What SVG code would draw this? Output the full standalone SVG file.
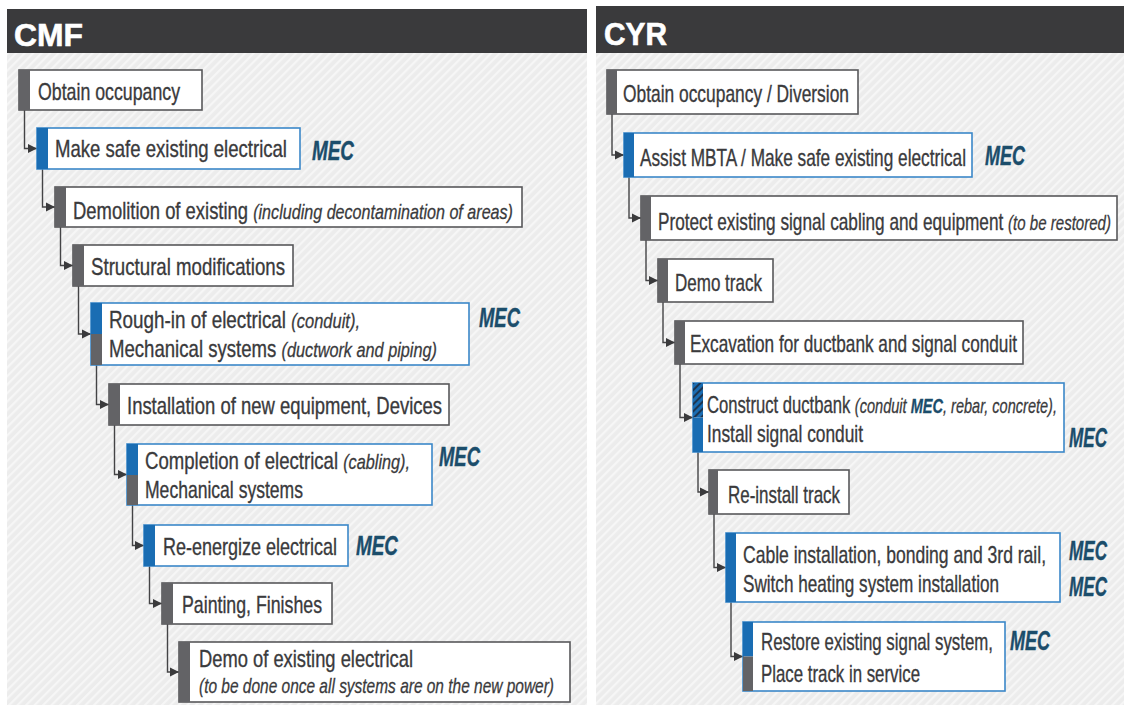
<svg xmlns="http://www.w3.org/2000/svg" width="1128" height="707" viewBox="0 0 1128 707">
<style>
.t{font-family:"Liberation Sans",Arial,sans-serif;font-size:24px;fill:#3a3a3c;stroke:#3a3a3c;stroke-width:0.35}
.i{font-family:"Liberation Sans",Arial,sans-serif;font-size:21px;font-style:italic;fill:#3a3a3c;stroke:#3a3a3c;stroke-width:0.3}
.m{font-family:"Liberation Sans",Arial,sans-serif;font-size:27px;font-style:italic;font-weight:bold;fill:#1b4d6b;stroke:#1b4d6b;stroke-width:0.4}
.mi{font-family:"Liberation Sans",Arial,sans-serif;font-size:21px;font-style:italic;font-weight:bold;fill:#1b4d6b;stroke:#1b4d6b;stroke-width:0.3}
.h{font-family:"Liberation Sans",Arial,sans-serif;font-size:31px;font-weight:bold;fill:#ffffff;stroke:#ffffff;stroke-width:0.6}
.bg{fill:#ffffff;stroke:#58585a;stroke-width:1.6}
.bb{fill:#ffffff;stroke:#3b88c9;stroke-width:1.6}
.gb{fill:#636366}
.blb{fill:#1a6db3}
.c{fill:none;stroke:#444446;stroke-width:1.4}
</style>
<defs>
<pattern id="stripes" width="6" height="6" patternUnits="userSpaceOnUse" patternTransform="rotate(45)">
<rect width="6" height="6" fill="#ececec"/>
<rect width="2.2" height="6" fill="#f6f6f6"/>
</pattern>
<pattern id="hatch" width="5" height="5" patternUnits="userSpaceOnUse" patternTransform="rotate(45)">
<rect width="5" height="5" fill="#1a6db3"/>
<rect width="2" height="5" fill="#1d3550"/>
</pattern>
<marker id="arr" markerUnits="userSpaceOnUse" markerWidth="10" markerHeight="10" refX="9" refY="5" orient="auto">
<path d="M0,0.5 L9,5 L0,9.5 Z" fill="#3a3a3c"/>
</marker>
</defs>
<rect width="1128" height="707" fill="#ffffff"/>
<g id="panels">
<rect x="7" y="53" width="580" height="652" fill="url(#stripes)"/>
<rect x="7" y="9" width="580" height="44" fill="#3a3a3c"/>
<text class="h" x="14" y="46" textLength="69" lengthAdjust="spacingAndGlyphs">CMF</text>
<rect x="596" y="53" width="528" height="652" fill="url(#stripes)"/>
<rect x="596" y="6" width="528" height="47" fill="#3a3a3c"/>
<text class="h" x="604" y="45" textLength="63" lengthAdjust="spacingAndGlyphs">CYR</text>
</g>
<g id="connectors">
<path class="c" marker-end="url(#arr)" d="M24.5,110 V148.5 H37"/>
<path class="c" marker-end="url(#arr)" d="M42.5,169 V207 H55"/>
<path class="c" marker-end="url(#arr)" d="M60.5,227 V265.5 H73"/>
<path class="c" marker-end="url(#arr)" d="M78.5,286 V334 H91"/>
<path class="c" marker-end="url(#arr)" d="M96.5,365 V404.5 H109"/>
<path class="c" marker-end="url(#arr)" d="M114.5,425 V474.5 H127"/>
<path class="c" marker-end="url(#arr)" d="M132.5,505 V545.5 H144"/>
<path class="c" marker-end="url(#arr)" d="M149.5,566 V603.5 H162"/>
<path class="c" marker-end="url(#arr)" d="M167.5,624 V672 H179"/>
<path class="c" marker-end="url(#arr)" d="M612,114 V155 H624"/>
<path class="c" marker-end="url(#arr)" d="M629,177 V218 H641"/>
<path class="c" marker-end="url(#arr)" d="M646,240 V280.5 H658"/>
<path class="c" marker-end="url(#arr)" d="M663,302 V342.5 H675"/>
<path class="c" marker-end="url(#arr)" d="M680,364 V417.5 H693"/>
<path class="c" marker-end="url(#arr)" d="M698,452 V492 H709"/>
<path class="c" marker-end="url(#arr)" d="M714,514 V567.5 H726"/>
<path class="c" marker-end="url(#arr)" d="M731,602 V656.5 H743"/>
</g>
<g id="cmf1">
<rect class="bg" x="19" y="70" width="183" height="40"/>
<rect class="gb" x="19" y="70" width="11" height="40"/>
<text class="t" x="38" y="100" textLength="142" lengthAdjust="spacingAndGlyphs">Obtain occupancy</text>
</g>
<g id="cmf2">
<rect class="bb" x="37" y="128" width="263" height="41"/>
<rect class="blb" x="37" y="128" width="11" height="41"/>
<text class="t" x="55" y="157" textLength="232" lengthAdjust="spacingAndGlyphs">Make safe existing electrical</text>
<text class="m" x="312" y="160" textLength="42" lengthAdjust="spacingAndGlyphs">MEC</text>
</g>
<g id="cmf3">
<rect class="bg" x="55" y="187" width="467" height="40"/>
<rect class="gb" x="55" y="187" width="11" height="40"/>
<text class="t" x="73" y="219" textLength="440" lengthAdjust="spacingAndGlyphs">Demolition of existing <tspan class="i">(including decontamination of areas)</tspan></text>
</g>
<g id="cmf4">
<rect class="bg" x="73" y="245" width="220" height="41"/>
<rect class="gb" x="73" y="245" width="11" height="41"/>
<text class="t" x="91" y="275" textLength="194" lengthAdjust="spacingAndGlyphs">Structural modifications</text>
</g>
<g id="cmf5">
<rect class="bb" x="91" y="303" width="378" height="62"/>
<rect class="blb" x="91" y="303" width="11" height="31"/>
<rect class="gb" x="91" y="334" width="11" height="31"/>
<text class="t" x="109" y="328" textLength="251" lengthAdjust="spacingAndGlyphs">Rough-in of electrical <tspan class="i">(conduit),</tspan></text>
<text class="t" x="109" y="357" textLength="328" lengthAdjust="spacingAndGlyphs">Mechanical systems <tspan class="i">(ductwork and piping)</tspan></text>
<text class="m" x="479" y="327" textLength="41" lengthAdjust="spacingAndGlyphs">MEC</text>
</g>
<g id="cmf6">
<rect class="bg" x="109" y="384" width="340" height="41"/>
<rect class="gb" x="109" y="384" width="11" height="41"/>
<text class="t" x="127" y="414" textLength="315" lengthAdjust="spacingAndGlyphs">Installation of new equipment, Devices</text>
</g>
<g id="cmf7">
<rect class="bb" x="127" y="444" width="305" height="61"/>
<rect class="blb" x="127" y="444" width="11" height="31"/>
<rect class="gb" x="127" y="475" width="11" height="30"/>
<text class="t" x="145" y="469" textLength="265" lengthAdjust="spacingAndGlyphs">Completion of electrical <tspan class="i">(cabling),</tspan></text>
<text class="t" x="145" y="498" textLength="158" lengthAdjust="spacingAndGlyphs">Mechanical systems</text>
<text class="m" x="439" y="466" textLength="41" lengthAdjust="spacingAndGlyphs">MEC</text>
</g>
<g id="cmf8">
<rect class="bb" x="144" y="525" width="204" height="41"/>
<rect class="blb" x="144" y="525" width="11" height="41"/>
<text class="t" x="163" y="555" textLength="174" lengthAdjust="spacingAndGlyphs">Re-energize electrical</text>
<text class="m" x="356" y="555" textLength="42" lengthAdjust="spacingAndGlyphs">MEC</text>
</g>
<g id="cmf9">
<rect class="bg" x="162" y="583" width="170" height="41"/>
<rect class="gb" x="162" y="583" width="11" height="41"/>
<text class="t" x="182" y="613" textLength="140" lengthAdjust="spacingAndGlyphs">Painting, Finishes</text>
</g>
<g id="cmf10">
<rect class="bg" x="179" y="642" width="391" height="60"/>
<rect class="gb" x="179" y="642" width="11" height="60"/>
<text class="t" x="199" y="667" textLength="214" lengthAdjust="spacingAndGlyphs">Demo of existing electrical</text>
<text class="i" x="199" y="693" textLength="355" lengthAdjust="spacingAndGlyphs">(to be done once all systems are on the new power)</text>
</g>
<g id="cyr1">
<rect class="bg" x="607" y="70" width="251" height="44"/>
<rect class="gb" x="607" y="70" width="10" height="44"/>
<text class="t" x="623" y="102" textLength="226" lengthAdjust="spacingAndGlyphs">Obtain occupancy / Diversion</text>
</g>
<g id="cyr2">
<rect class="bb" x="624" y="133" width="348" height="44"/>
<rect class="blb" x="624" y="133" width="10" height="44"/>
<text class="t" x="640" y="166" textLength="326" lengthAdjust="spacingAndGlyphs">Assist MBTA / Make safe existing electrical</text>
<text class="m" x="985" y="165" textLength="40" lengthAdjust="spacingAndGlyphs">MEC</text>
</g>
<g id="cyr3">
<rect class="bg" x="641" y="196" width="476" height="44"/>
<rect class="gb" x="641" y="196" width="10" height="44"/>
<text class="t" x="658" y="230" textLength="453" lengthAdjust="spacingAndGlyphs">Protect existing signal cabling and equipment <tspan class="i">(to be restored)</tspan></text>
</g>
<g id="cyr4">
<rect class="bg" x="658" y="259" width="115" height="43"/>
<rect class="gb" x="658" y="259" width="10" height="43"/>
<text class="t" x="675" y="291" textLength="87" lengthAdjust="spacingAndGlyphs">Demo track</text>
</g>
<g id="cyr5">
<rect class="bg" x="675" y="321" width="348" height="43"/>
<rect class="gb" x="675" y="321" width="10" height="43"/>
<text class="t" x="690" y="352" textLength="327" lengthAdjust="spacingAndGlyphs">Excavation for ductbank and signal conduit</text>
</g>
<g id="cyr6">
<rect class="bb" x="693" y="383" width="371" height="69"/>
<rect fill="url(#hatch)" x="693" y="383" width="10" height="34.5"/>
<rect class="blb" x="693" y="417.5" width="10" height="34.5"/>
<text class="t" x="707" y="413" textLength="350" lengthAdjust="spacingAndGlyphs">Construct ductbank <tspan class="i">(conduit </tspan><tspan class="mi">MEC</tspan><tspan class="i">, rebar, concrete),</tspan></text>
<text class="t" x="707" y="442" textLength="156" lengthAdjust="spacingAndGlyphs">Install signal conduit</text>
<text class="m" x="1069" y="447" textLength="38" lengthAdjust="spacingAndGlyphs">MEC</text>
</g>
<g id="cyr7">
<rect class="bg" x="709" y="470" width="140" height="44"/>
<rect class="gb" x="709" y="470" width="9" height="44"/>
<text class="t" x="728" y="503" textLength="112" lengthAdjust="spacingAndGlyphs">Re-install track</text>
</g>
<g id="cyr8">
<rect class="bb" x="726" y="533" width="334" height="69"/>
<rect class="blb" x="726" y="533" width="10" height="69"/>
<text class="t" x="743" y="563" textLength="303" lengthAdjust="spacingAndGlyphs">Cable installation, bonding and 3rd rail,</text>
<text class="t" x="743" y="592" textLength="256" lengthAdjust="spacingAndGlyphs">Switch heating system installation</text>
<text class="m" x="1069" y="560" textLength="38" lengthAdjust="spacingAndGlyphs">MEC</text>
<text class="m" x="1069" y="596" textLength="38" lengthAdjust="spacingAndGlyphs">MEC</text>
</g>
<g id="cyr9">
<rect class="bb" x="743" y="622" width="262" height="69"/>
<rect class="blb" x="743" y="622" width="10" height="34.5"/>
<rect class="gb" x="743" y="656.5" width="10" height="34.5"/>
<text class="t" x="761" y="650" textLength="232" lengthAdjust="spacingAndGlyphs">Restore existing signal system,</text>
<text class="t" x="761" y="682" textLength="159" lengthAdjust="spacingAndGlyphs">Place track in service</text>
<text class="m" x="1010" y="650" textLength="40" lengthAdjust="spacingAndGlyphs">MEC</text>
</g>
</svg>
